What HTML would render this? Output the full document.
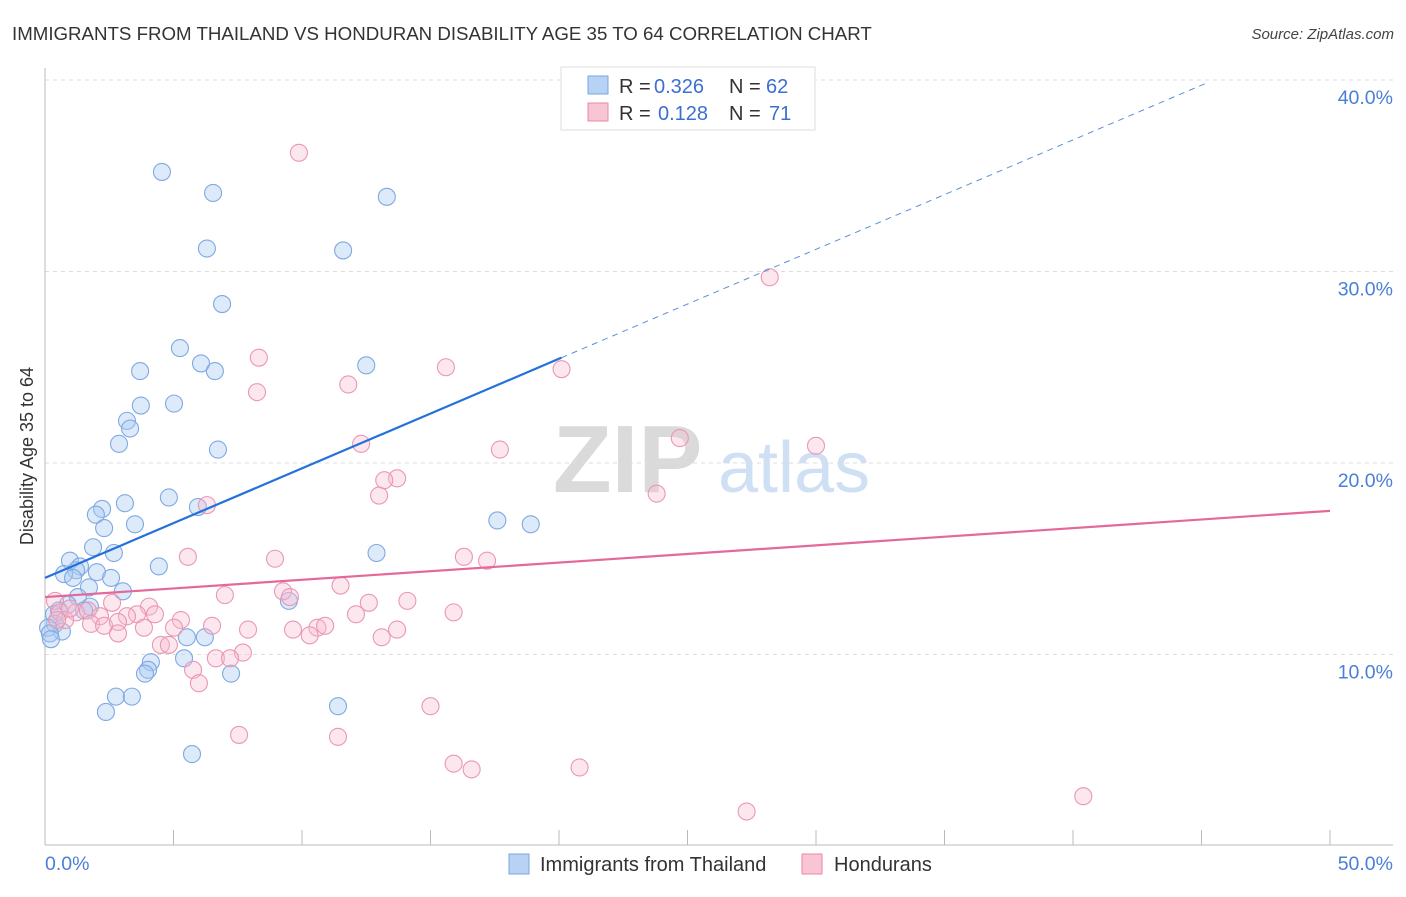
<!DOCTYPE html>
<html><head><meta charset="utf-8"><style>
body{margin:0;background:#fff;font-family:"Liberation Sans",sans-serif;}
svg text{font-family:"Liberation Sans",sans-serif;}
</style></head><body>
<svg id="chart" width="1406" height="892" viewBox="0 0 1406 892">
<text x="12" y="40" font-size="18.7" fill="#333">IMMIGRANTS FROM THAILAND VS HONDURAN DISABILITY AGE 35 TO 64 CORRELATION CHART</text>
<text x="1394" y="39" font-size="15" fill="#444" text-anchor="end" font-style="italic">Source: ZipAtlas.com</text>
<g>
<text x="553" y="492" font-size="96" fill="#dadada" font-family="Liberation Serif, serif" font-weight="bold">ZIP</text>
<text x="718" y="492" font-size="72" fill="#cfe0f4">atlas</text>
</g>
<g id="grid"></g>
<g id="axes"></g>
<g id="marks"></g>
<text transform="translate(33,456) rotate(-90)" font-size="18" fill="#333" text-anchor="middle">Disability Age 35 to 64</text>
<text x="45" y="870" font-size="19.5" fill="#4a7fd6">0.0%</text>
<text x="1393" y="870" font-size="19.5" fill="#4a7fd6" text-anchor="end">50.0%</text>
<g>
<rect x="561" y="67" width="254" height="63" fill="#fff" stroke="#ddd"/>
<rect x="588" y="76" width="20" height="18" fill="#b7d2f5" stroke="#7aa6e0"/>
<rect x="588" y="103" width="20" height="18" fill="#f9c4d4" stroke="#e88aa8"/>
<text x="619" y="93" font-size="20" fill="#333">R =</text>
<text x="654" y="93" font-size="20" fill="#3b6fd1">0.326</text>
<text x="729" y="93" font-size="20" fill="#333">N =</text>
<text x="766" y="93" font-size="20" fill="#3b6fd1">62</text>
<text x="619" y="120" font-size="20" fill="#333">R =</text>
<text x="658" y="120" font-size="20" fill="#3b6fd1">0.128</text>
<text x="729" y="120" font-size="20" fill="#333">N =</text>
<text x="769" y="120" font-size="20" fill="#3b6fd1">71</text>
</g>
<g>
<rect x="509" y="854" width="20" height="20" fill="#b7d2f5" stroke="#7aa6e0"/>
<text x="540" y="871" font-size="20" fill="#333">Immigrants from Thailand</text>
<rect x="802" y="854" width="20" height="20" fill="#f9c4d4" stroke="#e88aa8"/>
<text x="834" y="871" font-size="20" fill="#333">Hondurans</text>
</g>
</svg>
<script>
const yTicks=[10,20,30,40];
const yTickLabels=["10.0%","20.0%","30.0%","40.0%"];
const xTicks=[0,5,10,15,20,25,30,35,40,45,50];
const thaiX=[4.55,6.54,13.3,6.30,11.6,6.89,5.25,6.07,12.5,6.61,3.70,5.02,3.73,3.19,3.31,2.88,6.73,3.11,4.82,2.22,1.98,5.95,3.50,2.30,17.6,18.9,1.87,2.68,12.9,0.97,4.43,1.36,1.21,0.74,1.09,2.02,2.57,1.71,3.03,1.28,0.89,1.75,9.49,0.54,0.35,1.52,0.39,0.66,0.12,0.19,0.23,5.52,6.22,4.12,5.41,4.01,3.89,7.24,2.76,3.38,2.37,11.4,5.72];
const thaiY=[35.2,34.1,33.9,31.2,31.1,28.3,26.0,25.2,25.1,24.8,24.8,23.1,23.0,22.2,21.8,21.0,20.7,17.9,18.2,17.6,17.3,17.7,16.8,16.6,17.0,16.8,15.6,15.3,15.3,14.9,14.6,14.6,14.4,14.2,14.0,14.3,14.0,13.5,13.3,13.0,12.6,12.5,12.8,12.3,12.1,12.3,11.6,11.2,11.4,11.1,10.8,10.9,10.9,9.6,9.8,9.2,9.0,9.0,7.8,7.8,7.0,7.3,4.8];
const hondX=[9.88,28.2,8.32,15.6,20.1,11.8,8.25,24.7,12.3,17.7,30.0,13.7,13.2,13.0,23.8,6.30,5.56,8.95,16.3,17.2,11.5,9.26,7.00,9.53,14.1,12.6,0.39,2.61,4.05,0.58,1.21,1.67,2.14,3.58,3.19,4.28,12.1,15.9,5.29,6.50,0.78,1.79,2.30,2.84,3.85,5.02,7.90,10.6,10.9,13.7,9.65,10.3,2.84,13.1,4.51,4.82,7.70,5.76,6.65,7.20,5.99,15.0,7.55,11.4,15.9,16.6,20.8,40.4,27.3,0.47,0.97];
const hondY=[36.2,29.7,25.5,25.0,24.9,24.1,23.7,21.3,21.0,20.7,20.9,19.2,19.1,18.3,18.4,17.8,15.1,15.0,15.1,14.9,13.6,13.3,13.1,13.0,12.8,12.7,12.8,12.7,12.5,12.2,12.2,12.3,12.0,12.1,12.0,12.1,12.1,12.2,11.8,11.5,11.8,11.6,11.5,11.7,11.4,11.4,11.3,11.4,11.5,11.3,11.3,11.0,11.1,10.9,10.5,10.5,10.1,9.2,9.8,9.8,8.5,7.3,5.8,5.7,4.3,4.0,4.1,2.6,1.8,11.8,12.4];
const thaiTrend=[0,14.0,20.1,25.5,45.3,39.9];
const hondTrend=[0,13.0,50,17.5];
const NS="http://www.w3.org/2000/svg";
function sx(v){return 45+v*(1285/50);}
function sy(v){return 846-v*19.15;}
function mk(tag,attrs,parent){const e=document.createElementNS(NS,tag);for(const k in attrs)e.setAttribute(k,attrs[k]);parent.appendChild(e);return e;}
const grid=document.getElementById('grid'),axes=document.getElementById('axes'),marks=document.getElementById('marks');
yTicks.forEach((t,i)=>{
 const l=mk('line',{x1:45,x2:1393,y1:sy(t),y2:sy(t),stroke:'#ddd','stroke-dasharray':'4,4'},grid);
 
 
 const tx=mk('text',{x:1393,y:sy(t)+24,'font-size':19.5,fill:'#4a7fd6','text-anchor':'end'},grid);
 tx.textContent=yTickLabels[i];
 
 
});
const ax=mk('line',{x1:45,x2:1393,y1:845,y2:845,stroke:'#bbb'},axes);


const ay=mk('line',{x1:45,x2:45,y1:68,y2:845,stroke:'#bbb'},axes);


xTicks.forEach(t=>{
 const l=mk('line',{x1:sx(t),x2:sx(t),y1:830,y2:845,stroke:'#bbb'},axes);
 
 
});
thaiX.forEach((x,i)=>{
 const c=mk('circle',{cx:sx(x),cy:sy(thaiY[i]),r:8.5,fill:'rgba(170,202,242,0.4)',stroke:'#7fa9e2','stroke-width':1.1},marks);
 
 
});
hondX.forEach((x,i)=>{
 const c=mk('circle',{cx:sx(x),cy:sy(hondY[i]),r:8.5,fill:'rgba(247,185,205,0.35)',stroke:'#eb97b3','stroke-width':1.1},marks);
 
 
});
const t1=mk('line',{x1:sx(thaiTrend[0]),y1:sy(thaiTrend[1]),x2:sx(thaiTrend[2]),y2:sy(thaiTrend[3]),stroke:'#2272d9','stroke-width':2.2},marks);


const t2=mk('line',{x1:sx(thaiTrend[2]),y1:sy(thaiTrend[3]),x2:sx(thaiTrend[4]),y2:sy(thaiTrend[5]),stroke:'#5b8fdc','stroke-width':1,'stroke-dasharray':'6,5'},marks);


const t3=mk('line',{x1:sx(hondTrend[0]),y1:sy(hondTrend[1]),x2:sx(hondTrend[2]),y2:sy(hondTrend[3]),stroke:'#e4689a','stroke-width':2.2},marks);


</script>
</body></html>
